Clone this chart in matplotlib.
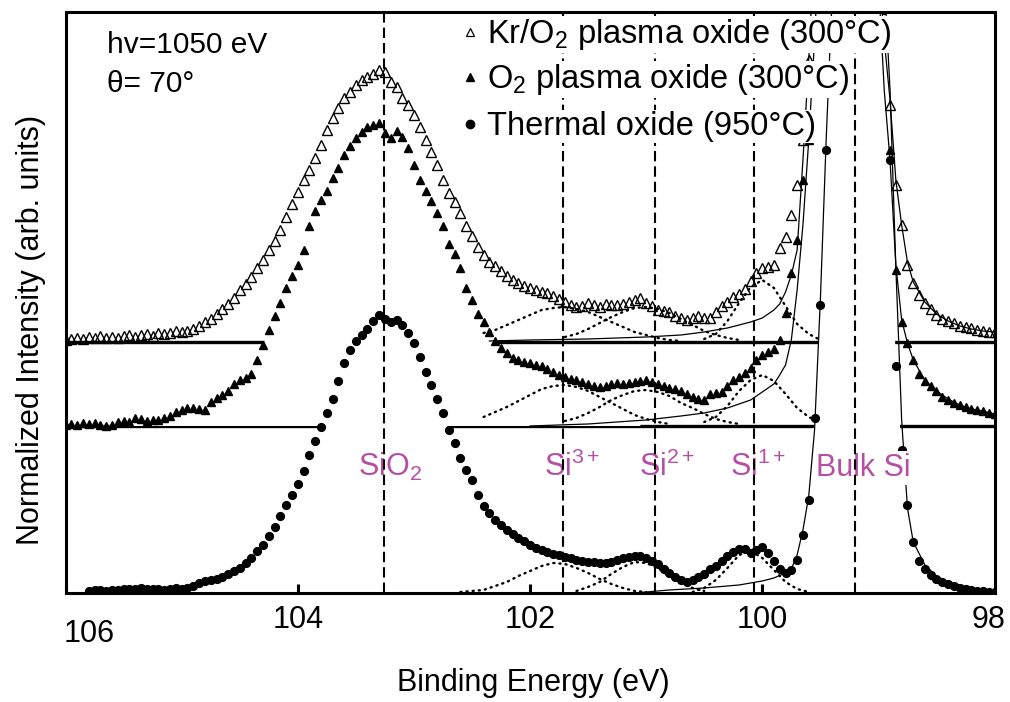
import numpy as np
import matplotlib.pyplot as plt

plt.rcParams['font.family'] = ['Liberation Sans', 'DejaVu Sans']
plt.rcParams['mathtext.fontset'] = 'custom'
plt.rcParams['mathtext.rm'] = 'Liberation Sans'
plt.rcParams['mathtext.it'] = 'Liberation Sans:italic'
plt.rcParams['mathtext.bf'] = 'Liberation Sans:bold'

# Si 2p spectra, 0.05 eV steps from 106 eV down to 98 eV (offset, arb. units)
energy = np.round(np.arange(106.0, 97.99, -0.05), 2)

kr_o2 = np.array([
    253, 254, 255, 254, 256, 255, 257, 255, 256, 255,
    257, 258, 256, 258, 259, 257, 260, 259, 260, 262,
    261, 262, 264, 267, 271, 274, 279, 284, 289, 295,
    303, 309, 316, 325, 333, 343, 352, 363, 376, 389,
    401, 413, 423, 435, 448, 463, 475, 485, 495, 501,
    508, 513, 516, 519, 523, 521, 511, 506, 495, 488,
    478, 466, 453, 441, 428, 413, 400, 391, 380, 367,
    357, 346, 338, 331, 327, 322, 317, 313, 310, 307,
    305, 303, 301, 300, 297, 294, 291, 288, 286, 287,
    290, 288, 286, 289, 288, 288, 289, 291, 293, 295,
    290, 287, 283, 282, 281, 277, 275, 273, 275, 277,
    275, 275, 281, 287, 291, 296, 299, 304, 312, 320,
    325, 326, 328, 345, 356, 378, 408, 453, 533, 643,
    713, 763, 793, 803, 808, 808, 803, 783, 753, 703,
    643, 563, 488, 408, 368, 328, 310, 298, 290, 284,
    278, 274, 272, 270, 267, 266, 265, 263, 262, 261,
    261])

o2 = np.array([
    168, 169, 168, 170, 169, 170, 168, 167, 168, 171,
    172, 171, 175, 174, 172, 173, 173, 175, 177, 181,
    183, 185, 185, 184, 183, 191, 195, 198, 202, 209,
    213, 215, 219, 233, 248, 263, 277, 290, 305, 317,
    328, 343, 367, 382, 393, 402, 415, 425, 438, 447,
    455, 461, 466, 468, 470, 460, 455, 462, 456, 445,
    428, 413, 402, 392, 380, 367, 349, 339, 325, 305,
    293, 279, 271, 261, 252, 245, 240, 235, 233, 231,
    230, 228, 227, 224, 221, 218, 216, 214, 213, 211,
    209, 207, 206, 207, 209, 210, 209, 210, 211, 212,
    213, 211, 209, 207, 205, 204, 202, 199, 196, 194,
    193, 199, 200, 201, 207, 213, 216, 220, 225, 233,
    238, 241, 244, 253, 280, 320, 353, 413, 453, 513,
    573, 653, 723, 773, 793, 803, 803, 793, 773, 733,
    653, 553, 443, 323, 271, 250, 233, 219, 212, 207,
    202, 196, 193, 190, 188, 186, 184, 183, 182, 180,
    179])

nan = np.nan
thermal = np.array([
    nan, nan, nan, nan, 2, 3, 3, 2, 3, 3,
    4, 4, 4, 5, 4, 4, 4, 3, 4, 5,
    4, 5, 7, 10, 12, 13, 14, 16, 19, 22,
    25, 30, 35, 42, 48, 57, 66, 77, 88, 98,
    109, 122, 138, 152, 166, 180, 194, 212, 230, 243,
    252, 258, 264, 272, 278, 274, 271, 273, 268, 260,
    250, 236, 221, 208, 194, 180, 163, 150, 135, 123,
    113, 98, 87, 80, 73, 68, 63, 59, 55, 52,
    48, 45, 43, 41, 39, 38, 36, 35, 33, 32,
    31, 31, 30, 30, 31, 33, 35, 36, 37, 37,
    35, 32, 29, 24, 20, 16, 13, 11, 13, 16,
    19, 24, 27, 32, 37, 41, 44, 44, 40, 43,
    46, 40, 32, 24, 20, 23, 33, 58, 93, 175,
    288, 443, 573, 693, 793, 853, 873, 873, 853, 803,
    723, 583, 433, 227, 143, 88, 51, 32, 24, 18,
    14, 11, 9, 7, 5, 4, 3, 2, 2, 1,
    1], dtype=float)

base_kr = 251
base_o2 = 167

# fitted suboxide components: (first energy, values every 0.1 eV)
components = [
    (102.4, [260, 263, 268, 273, 278, 283, 285, 286, 284, 281, 276, 271, 266, 261, 258, 255, 253, 252]),
    (101.7, [256, 259, 264, 270, 276, 281, 285, 286, 284, 280, 274, 268, 262, 258, 255, 253]),
    (100.5, [254, 259, 272, 290, 306, 313, 305, 287, 269, 259, 253]),
    (102.4, [176, 181, 186, 192, 198, 204, 207, 208, 206, 202, 196, 190, 184, 178, 174, 171, 169]),
    (101.7, [172, 175, 180, 186, 193, 198, 202, 203, 201, 197, 190, 185, 179, 174, 171, 169]),
    (100.5, [171, 176, 187, 202, 213, 218, 212, 199, 185, 176, 170]),
    (102.6, [1, 2, 3, 7, 11, 17, 22, 27, 30, 29, 25, 20, 14, 9, 5, 2, 1]),
    (101.6, [2, 6, 11, 19, 26, 31, 30, 25, 17, 10, 5, 2]),
    (100.6, [1, 5, 13, 25, 38, 42, 35, 23, 11, 4, 1]),
]

# bulk Si fit curves
kr_fit_e = [102.35, 102.0, 101.5, 101.0, 100.7, 100.5, 100.3, 100.2, 100.1, 100.0,
            99.9, 99.85, 99.8, 99.75, 99.7, 99.65, 99.6, 99.55, 99.4, 99.2,
            99.05, 99.0, 98.95, 98.9, 98.85, 98.8, 98.75, 98.7, 98.6, 98.5,
            98.4, 98.3, 98.2, 98.1, 98.0]
kr_fit = [252, 253, 254, 256, 258, 261, 265, 268, 271, 275,
          283, 289, 301, 318, 343, 433, 533, 653, 843, 893,
          743, 633, 553, 493, 413, 368, 331, 311, 291, 279,
          272, 267, 264, 262, 261]
o2_fit_e = [102.0, 101.5, 101.0, 100.7, 100.5, 100.3, 100.2, 100.1, 100.0, 99.9,
            99.85, 99.8, 99.75, 99.7, 99.65, 99.6, 99.55, 99.5, 99.3, 99.1,
            99.0, 98.95, 98.9, 98.85, 98.8, 98.75, 98.7, 98.6, 98.5, 98.4,
            98.3, 98.2, 98.1, 98.0]
o2_fit = [167, 169, 173, 177, 180, 185, 189, 193, 201, 209,
          218, 228, 253, 303, 368, 453, 553, 673, 893, 843,
          613, 503, 433, 328, 273, 250, 233, 213, 202, 194,
          188, 184, 182, 179]
th_fit_e = [101.1, 100.8, 100.5, 100.2, 100.0, 99.9, 99.8, 99.75, 99.7, 99.65,
            99.6, 99.55, 99.5, 99.45, 99.4, 99.2, 99.0, 98.95, 98.9, 98.85,
            98.8, 98.75, 98.7, 98.6, 98.5, 98.4, 98.3, 98.2, 98.1, 98.0]
th_fit = [0, 3, 5, 8, 12, 15, 20, 24, 38, 63,
          97, 163, 293, 453, 593, 893, 793, 613, 503, 326,
          173, 85, 51, 28, 17, 11, 8, 5, 3, 2]

peak_pos = [103.26, 101.72, 100.92, 100.07, 99.20]
peak_names = ['SiO$_2$', 'Si$^{3+}$', 'Si$^{2+}$', 'Si$^{1+}$', 'Bulk Si']
name_x = [103.21, 101.64, 100.82, 100.04, 99.13]
name_y = 117

legend_labels = ['Kr/O$_2$ plasma oxide (300°C)',
                 'O$_2$ plasma oxide (300°C)',
                 'Thermal oxide (950°C)']

ticks = [106, 104, 102, 100, 98]

magenta = '#b54fa5'
fs = 22

fig = plt.figure(figsize=(10.1, 7.02), dpi=100)
ax = fig.add_axes([0.0649, 0.1553, 0.9198, 0.8276])
ax.set_xlim(106, 98)
ax.set_ylim(0, 581)

# offset baselines, partly hidden under the lower spectra
ax.axhline(base_kr, color='k', lw=2.4, zorder=1)
ax.axhline(base_o2, color='k', lw=2.4, zorder=1)
ax.fill_between(energy, base_o2, o2, where=(energy > 101) & (o2 > base_o2),
                interpolate=True, color='white', lw=0, zorder=1.5)
ok = ~np.isnan(thermal)
ax.fill_between(energy[ok], 0, thermal[ok], color='white', lw=0, zorder=1.5)

for e0, vals in components:
    e = np.round(e0 - 0.1 * np.arange(len(vals)), 2)
    ax.plot(e, vals, color='k', lw=1.7, ls=(0, (0.5, 2.1)),
            dash_capstyle='round', zorder=3)

for fe, fv in [(kr_fit_e, kr_fit), (o2_fit_e, o2_fit), (th_fit_e, th_fit)]:
    ax.plot(fe, fv, color='k', lw=0.9, zorder=3)

ax.plot(energy, kr_o2, ls='none', marker='^', ms=6.8, mfc='none', mec='k', mew=1.0, zorder=4)
ax.plot(energy, o2, ls='none', marker='^', ms=6.3, color='k', zorder=4)
ax.plot(energy, thermal, ls='none', marker='o', ms=5.6, color='k', zorder=4)

for x, name in zip(name_x, peak_names):
    ax.text(x, name_y, name, color=magenta, fontsize=fs, ha='center', va='baseline',
            zorder=4.5, bbox=dict(boxstyle='square,pad=0.05', fc='white', ec='none'))

for p in peak_pos:
    ax.axvline(p, color='k', lw=1.5, ls=(0, (5, 2.4)), zorder=6)

# legend rows, each with its own white backing
row_y = [0.9466, 0.8692, 0.7883]
mark_y = [0.9656, 0.8881, 0.8072]
styles = [dict(marker='^', ms=6, mfc='none', mec='k', mew=0.9),
          dict(marker='^', ms=6, color='k'),
          dict(marker='o', ms=6, color='k')]
for lab, ty, my, st in zip(legend_labels, row_y, mark_y, styles):
    ax.text(0.4532, ty, lab, transform=ax.transAxes, fontsize=23.5, va='baseline',
            zorder=7, bbox=dict(boxstyle='square,pad=0.04', fc='white', ec='none'))
    ax.plot([0.4349], [my], transform=ax.transAxes, ls='none', clip_on=False,
            zorder=8, **st)

ax.text(0.0441, 0.9294, 'hv=1050 eV', transform=ax.transAxes, fontsize=21.5, va='baseline')
ax.text(0.0441, 0.8623, 'θ= 70°', transform=ax.transAxes, fontsize=21.5, va='baseline')

ax.set_xticks(ticks)
ax.set_xticklabels([])
ax.set_yticks([])
ax.tick_params(axis='x', direction='in', length=6.5, width=2.2, top=False)
for s in ax.spines.values():
    s.set_linewidth(2.2)

# tick labels placed by hand; the first one sits a little lower
offsets = {106: (17, -19), 98: (-4, -8.5)}
for t in ticks:
    dx, dy = offsets.get(t, (0, -8.5))
    ax.annotate(str(t), xy=(t, 0), xycoords=('data', 'axes fraction'),
                xytext=(dx, dy), textcoords='offset points',
                ha='center', va='top', fontsize=fs)

ax.set_xlabel('Binding Energy (eV)', fontsize=fs)
ax.xaxis.set_label_coords(0.5038, -0.129)
ax.set_ylabel('Normalized Intensity (arb. units)', fontsize=fs)
ax.yaxis.set_label_coords(-0.0215, 0.4527)

fig.savefig('out.png', dpi=100)
